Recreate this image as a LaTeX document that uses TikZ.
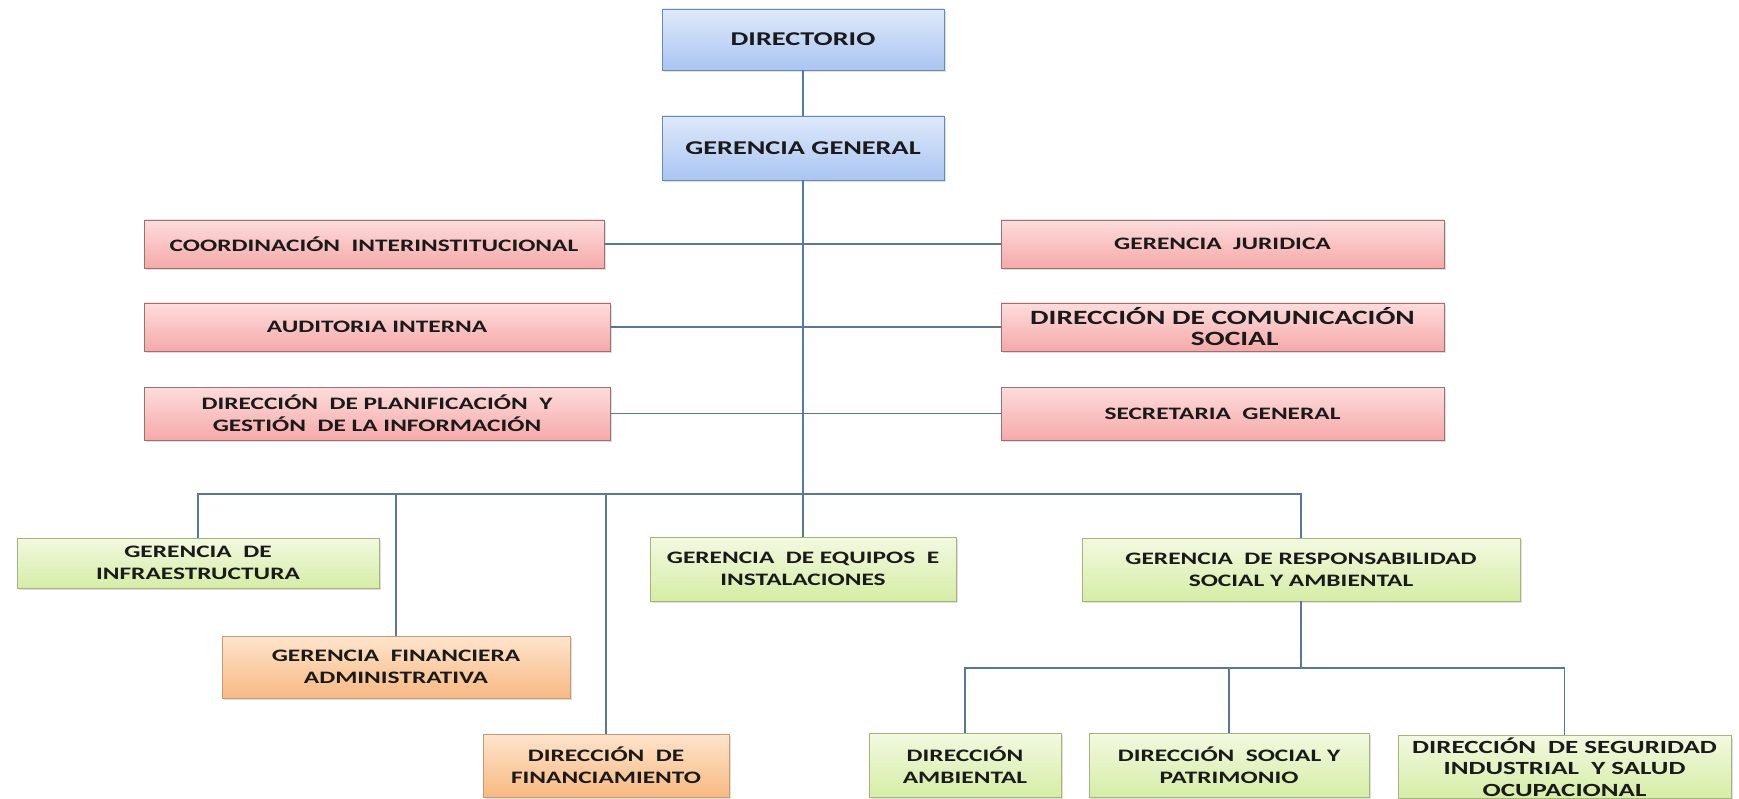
\documentclass[tikz,border=0pt]{standalone}
\usepackage{fontspec}
\setmainfont{Carlito}[FakeStretch=1.45]
\usetikzlibrary{shadows}

\definecolor{bluetop}{HTML}{DFE9FB}
\definecolor{bluebot}{HTML}{A9C5F1}
\definecolor{blueline}{HTML}{6A88B8}
\definecolor{redtop}{HTML}{FDDCDC}
\definecolor{redbot}{HTML}{F6A9A9}
\definecolor{redline}{HTML}{9A7070}
\definecolor{greentop}{HTML}{F2F9E0}
\definecolor{greenbot}{HTML}{D6EDA6}
\definecolor{greenline}{HTML}{A3B57A}
\definecolor{orangetop}{HTML}{FEE4CC}
\definecolor{orangebot}{HTML}{F8B982}
\definecolor{orangeline}{HTML}{C49A78}
\definecolor{wire}{HTML}{5A7893}
\definecolor{trunkblue}{HTML}{5479B2}
\definecolor{ink}{HTML}{1A1A1A}

\begin{document}
\begin{tikzpicture}[x=1pt,
            y=-1pt,
            unit/.style={draw, rectangle, align=center, inner sep=2pt, text=ink,
                font=\bfseries\fontsize{17.5}{22}\selectfont,
                drop shadow={opacity=0.25, shadow xshift=1.5pt, shadow yshift=-2pt}},
            board/.style={unit, top color=bluetop, bottom color=bluebot, draw=blueline,
                font=\bfseries\fontsize{19.5}{23}\selectfont},
            staff/.style={unit, top color=redtop, bottom color=redbot, draw=redline},
            line/.style={unit, top color=greentop, bottom color=greenbot, draw=greenline},
            money/.style={unit, top color=orangetop, bottom color=orangebot, draw=orangeline},
            link/.style={draw=wire, line width=1.4pt},
            trunk/.style={draw=trunkblue, line width=2.5pt},
            elbow/.style={to path={|- (\tikztotarget)}}]

        \useasboundingbox (0,0) rectangle (1739,799);

        % top
        \node[board, minimum width=282pt, minimum height=61pt] (dir) at (803,39.5) {DIRECTORIO};
        \node[board, minimum width=282pt, minimum height=64pt] (gg)  at (803,148)  {GERENCIA GENERAL};

        % staff units
        \node[staff, minimum width=460pt, minimum height=48pt] (coord) at (374,244)    {COORDINACIÓN \ INTERINSTITUCIONAL};
        \node[staff, minimum width=443pt, minimum height=48pt] (jur)   at (1222.5,244) {GERENCIA \ JURIDICA};
        \node[staff, minimum width=466pt, minimum height=48pt] (aud)   at (377,327)    {AUDITORIA INTERNA};
        \node[staff, minimum width=443pt, minimum height=48pt, font=\bfseries\fontsize{20.3}{21}\selectfont] (com) at (1222.5,327) {DIRECCIÓN DE COMUNICACIÓN\\\hspace*{1.2em}SOCIAL};
        \node[staff, minimum width=466pt, minimum height=53pt] (plan)  at (377,413.5)  {DIRECCIÓN \ DE PLANIFICACIÓN \ Y\\GESTIÓN \ DE LA INFORMACIÓN};
        \node[staff, minimum width=443pt, minimum height=53pt] (sec)   at (1222.5,413.5) {SECRETARIA \ GENERAL};

        % line units
        \node[line,  minimum width=362pt, minimum height=50pt] (infra) at (198,563)   {GERENCIA \ DE\\INFRAESTRUCTURA};
        \node[line,  minimum width=306pt, minimum height=64pt] (equip) at (803,569)   {GERENCIA \ DE EQUIPOS \ E\\INSTALACIONES};
        \node[line,  minimum width=438pt, minimum height=63pt] (resp)  at (1301,569.5) {GERENCIA \ DE RESPONSABILIDAD\\SOCIAL Y AMBIENTAL};
        \node[money, minimum width=348pt, minimum height=62pt] (fin)   at (396,667)   {GERENCIA \ FINANCIERA\\ADMINISTRATIVA};
        \node[money, minimum width=246pt, minimum height=63pt] (finan) at (606,765.5) {DIRECCIÓN \ DE\\FINANCIAMIENTO};

        % under responsabilidad
        \node[line,  minimum width=192pt, minimum height=64pt] (amb)   at (965,765)   {DIRECCIÓN\\AMBIENTAL};
        \node[line,  minimum width=280pt, minimum height=64pt] (soc)   at (1229,765)  {DIRECCIÓN \ SOCIAL Y\\PATRIMONIO};
        \node[line,  minimum width=333pt, minimum height=63pt, inner sep=0pt,
              font=\bfseries\fontsize{18.6}{21.5}\selectfont] (seg) at (1564.5,767) {DIRECCIÓN \ DE SEGURIDAD\\INDUSTRIAL \ Y SALUD\\OCUPACIONAL};

        \coordinate (bus) at (803,494);
        \coordinate (sub) at (1301,668);

        \path[link] (coord) edge (jur)
                    (aud)   edge (com)
                    (plan)  edge (sec);

        \path[link] (infra) edge[elbow] (bus)
                    (fin)   edge[elbow] (bus)
                    (finan) edge[elbow] (bus)
                    (equip) edge        (bus)
                    (resp)  edge[elbow] (bus)
                    (resp)  edge        (sub)
                    (amb)   edge[elbow] (sub)
                    (soc)   edge[elbow] (sub)
                    (seg)   edge[elbow] (sub);

        \path[trunk] (dir) edge (gg)
                     (gg)  edge (bus);

    \end{tikzpicture}
\end{document}
